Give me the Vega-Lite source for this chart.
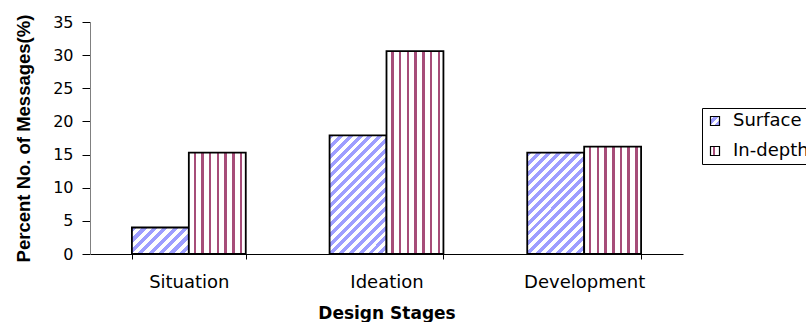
{
  "$schema": "https://vega.github.io/schema/vega-lite/v6.json",
  "width": 593,
  "height": 232,
  "autosize": {"type": "none"},
  "padding": {"left": 90, "top": 22, "right": 123, "bottom": 68},
  "background": "white",
  "config": {"view": {"stroke": null}, "font": "DejaVu Sans"},
  "data": {
    "values": [
      {"stage": "Situation", "type": "Surface", "pct": 4.0},
      {"stage": "Situation", "type": "In-depth", "pct": 15.3},
      {"stage": "Ideation", "type": "Surface", "pct": 17.9},
      {"stage": "Ideation", "type": "In-depth", "pct": 30.6},
      {"stage": "Development", "type": "Surface", "pct": 15.3},
      {"stage": "Development", "type": "In-depth", "pct": 16.2}
    ]
  },
  "mark": {"type": "bar", "stroke": "black", "strokeWidth": 1.8},
  "encoding": {
    "x": {
      "field": "stage",
      "type": "nominal",
      "sort": ["Situation", "Ideation", "Development"],
      "scale": {"paddingInner": 0.424, "paddingOuter": 0.212},
      "axis": {
        "title": "Design Stages",
        "labelAngle": 0,
        "tickBand": "extent",
        "tickSize": 5,
        "tickColor": "black",
        "domainColor": "black",
        "labelFont": "DejaVu Sans",
        "labelFontSize": 18,
        "labelColor": "black",
        "labelPadding": 14,
        "titleFont": "DejaVu Sans",
        "titleFontSize": 17,
        "titleFontWeight": "bold",
        "titleColor": "black",
        "titlePadding": 14
      }
    },
    "xOffset": {
      "field": "type",
      "type": "nominal",
      "sort": ["Surface", "In-depth"],
      "scale": {"paddingInner": 0, "paddingOuter": 0}
    },
    "y": {
      "field": "pct",
      "type": "quantitative",
      "scale": {"domain": [0, 35]},
      "axis": {
        "title": "Percent No. of Messages(%)",
        "values": [0, 5, 10, 15, 20, 25, 30, 35],
        "grid": false,
        "tickSize": 8,
        "tickColor": "black",
        "domainColor": "#808080",
        "labelFont": "DejaVu Sans",
        "labelFontSize": 16,
        "labelColor": "black",
        "labelPadding": 9,
        "labelFlush": false,
        "labelOverlap": false,
        "titleFont": "Liberation Sans",
        "titleFontSize": 18.5,
        "titleFontWeight": "bold",
        "titleColor": "black",
        "titlePadding": 19
      }
    },
    "fill": {
      "field": "type",
      "type": "nominal",
      "condition": [
        {
          "test": "datum.type === 'In-depth'",
          "value": {
            "gradient": "linear", "x1": 0, "y1": 0, "x2": 1, "y2": 0,
            "stops": [
              {"offset": 0, "color": "#FFFFFF"}, {"offset": 0.083, "color": "#FFFFFF"},
              {"offset": 0.083, "color": "#A64D79"}, {"offset": 0.127, "color": "#A64D79"},
              {"offset": 0.127, "color": "#FFFFFF"}, {"offset": 0.2185, "color": "#FFFFFF"},
              {"offset": 0.2185, "color": "#A64D79"}, {"offset": 0.2625, "color": "#A64D79"},
              {"offset": 0.2625, "color": "#FFFFFF"}, {"offset": 0.354, "color": "#FFFFFF"},
              {"offset": 0.354, "color": "#A64D79"}, {"offset": 0.398, "color": "#A64D79"},
              {"offset": 0.398, "color": "#FFFFFF"}, {"offset": 0.4895, "color": "#FFFFFF"},
              {"offset": 0.4895, "color": "#A64D79"}, {"offset": 0.5335, "color": "#A64D79"},
              {"offset": 0.5335, "color": "#FFFFFF"}, {"offset": 0.625, "color": "#FFFFFF"},
              {"offset": 0.625, "color": "#A64D79"}, {"offset": 0.669, "color": "#A64D79"},
              {"offset": 0.669, "color": "#FFFFFF"}, {"offset": 0.7605, "color": "#FFFFFF"},
              {"offset": 0.7605, "color": "#A64D79"}, {"offset": 0.8045, "color": "#A64D79"},
              {"offset": 0.8045, "color": "#FFFFFF"}, {"offset": 0.896, "color": "#FFFFFF"},
              {"offset": 0.896, "color": "#A64D79"}, {"offset": 0.94, "color": "#A64D79"},
              {"offset": 0.94, "color": "#FFFFFF"}, {"offset": 1, "color": "#FFFFFF"}
            ]
          }
        },
        {
          "test": "datum.stage === 'Situation'",
          "value": {
            "gradient": "linear", "x1": 0, "y1": 0, "x2": 1.2045, "y2": 0.5605,
            "stops": [
              {"offset": 0, "color": "#9E9EFF"}, {"offset": 0.0625, "color": "#9E9EFF"},
              {"offset": 0.0625, "color": "#FFFFFF"}, {"offset": 0.125, "color": "#FFFFFF"},
              {"offset": 0.125, "color": "#9E9EFF"}, {"offset": 0.1875, "color": "#9E9EFF"},
              {"offset": 0.1875, "color": "#FFFFFF"}, {"offset": 0.25, "color": "#FFFFFF"},
              {"offset": 0.25, "color": "#9E9EFF"}, {"offset": 0.3125, "color": "#9E9EFF"},
              {"offset": 0.3125, "color": "#FFFFFF"}, {"offset": 0.375, "color": "#FFFFFF"},
              {"offset": 0.375, "color": "#9E9EFF"}, {"offset": 0.4375, "color": "#9E9EFF"},
              {"offset": 0.4375, "color": "#FFFFFF"}, {"offset": 0.5, "color": "#FFFFFF"},
              {"offset": 0.5, "color": "#9E9EFF"}, {"offset": 0.5625, "color": "#9E9EFF"},
              {"offset": 0.5625, "color": "#FFFFFF"}, {"offset": 0.625, "color": "#FFFFFF"},
              {"offset": 0.625, "color": "#9E9EFF"}, {"offset": 0.6875, "color": "#9E9EFF"},
              {"offset": 0.6875, "color": "#FFFFFF"}, {"offset": 0.75, "color": "#FFFFFF"},
              {"offset": 0.75, "color": "#9E9EFF"}, {"offset": 0.8125, "color": "#9E9EFF"},
              {"offset": 0.8125, "color": "#FFFFFF"}, {"offset": 0.875, "color": "#FFFFFF"},
              {"offset": 0.875, "color": "#9E9EFF"}, {"offset": 0.9375, "color": "#9E9EFF"},
              {"offset": 0.9375, "color": "#FFFFFF"}, {"offset": 1, "color": "#FFFFFF"}
            ]
          }
        },
        {
          "test": "datum.stage === 'Ideation'",
          "value": {
            "gradient": "linear", "x1": 0, "y1": 0, "x2": 0.5774, "y2": 1.2029,
            "stops": [
              {"offset": 0, "color": "#9E9EFF"}, {"offset": 0.0278, "color": "#9E9EFF"},
              {"offset": 0.0278, "color": "#FFFFFF"}, {"offset": 0.0556, "color": "#FFFFFF"},
              {"offset": 0.0556, "color": "#9E9EFF"}, {"offset": 0.0833, "color": "#9E9EFF"},
              {"offset": 0.0833, "color": "#FFFFFF"}, {"offset": 0.1111, "color": "#FFFFFF"},
              {"offset": 0.1111, "color": "#9E9EFF"}, {"offset": 0.1389, "color": "#9E9EFF"},
              {"offset": 0.1389, "color": "#FFFFFF"}, {"offset": 0.1667, "color": "#FFFFFF"},
              {"offset": 0.1667, "color": "#9E9EFF"}, {"offset": 0.1944, "color": "#9E9EFF"},
              {"offset": 0.1944, "color": "#FFFFFF"}, {"offset": 0.2222, "color": "#FFFFFF"},
              {"offset": 0.2222, "color": "#9E9EFF"}, {"offset": 0.25, "color": "#9E9EFF"},
              {"offset": 0.25, "color": "#FFFFFF"}, {"offset": 0.2778, "color": "#FFFFFF"},
              {"offset": 0.2778, "color": "#9E9EFF"}, {"offset": 0.3056, "color": "#9E9EFF"},
              {"offset": 0.3056, "color": "#FFFFFF"}, {"offset": 0.3333, "color": "#FFFFFF"},
              {"offset": 0.3333, "color": "#9E9EFF"}, {"offset": 0.3611, "color": "#9E9EFF"},
              {"offset": 0.3611, "color": "#FFFFFF"}, {"offset": 0.3889, "color": "#FFFFFF"},
              {"offset": 0.3889, "color": "#9E9EFF"}, {"offset": 0.4167, "color": "#9E9EFF"},
              {"offset": 0.4167, "color": "#FFFFFF"}, {"offset": 0.4444, "color": "#FFFFFF"},
              {"offset": 0.4444, "color": "#9E9EFF"}, {"offset": 0.4722, "color": "#9E9EFF"},
              {"offset": 0.4722, "color": "#FFFFFF"}, {"offset": 0.5, "color": "#FFFFFF"},
              {"offset": 0.5, "color": "#9E9EFF"}, {"offset": 0.5278, "color": "#9E9EFF"},
              {"offset": 0.5278, "color": "#FFFFFF"}, {"offset": 0.5556, "color": "#FFFFFF"},
              {"offset": 0.5556, "color": "#9E9EFF"}, {"offset": 0.5833, "color": "#9E9EFF"},
              {"offset": 0.5833, "color": "#FFFFFF"}, {"offset": 0.6111, "color": "#FFFFFF"},
              {"offset": 0.6111, "color": "#9E9EFF"}, {"offset": 0.6389, "color": "#9E9EFF"},
              {"offset": 0.6389, "color": "#FFFFFF"}, {"offset": 0.6667, "color": "#FFFFFF"},
              {"offset": 0.6667, "color": "#9E9EFF"}, {"offset": 0.6944, "color": "#9E9EFF"},
              {"offset": 0.6944, "color": "#FFFFFF"}, {"offset": 0.7222, "color": "#FFFFFF"},
              {"offset": 0.7222, "color": "#9E9EFF"}, {"offset": 0.75, "color": "#9E9EFF"},
              {"offset": 0.75, "color": "#FFFFFF"}, {"offset": 0.7778, "color": "#FFFFFF"},
              {"offset": 0.7778, "color": "#9E9EFF"}, {"offset": 0.8056, "color": "#9E9EFF"},
              {"offset": 0.8056, "color": "#FFFFFF"}, {"offset": 0.8333, "color": "#FFFFFF"},
              {"offset": 0.8333, "color": "#9E9EFF"}, {"offset": 0.8611, "color": "#9E9EFF"},
              {"offset": 0.8611, "color": "#FFFFFF"}, {"offset": 0.8889, "color": "#FFFFFF"},
              {"offset": 0.8889, "color": "#9E9EFF"}, {"offset": 0.9167, "color": "#9E9EFF"},
              {"offset": 0.9167, "color": "#FFFFFF"}, {"offset": 0.9444, "color": "#FFFFFF"},
              {"offset": 0.9444, "color": "#9E9EFF"}, {"offset": 0.9722, "color": "#9E9EFF"},
              {"offset": 0.9722, "color": "#FFFFFF"}, {"offset": 1, "color": "#FFFFFF"}
            ]
          }
        },
        {
          "test": "datum.stage === 'Development'",
          "value": {
            "gradient": "linear", "x1": 0, "y1": 0, "x2": 0.6668, "y2": 1.1872,
            "stops": [
              {"offset": 0, "color": "#9E9EFF"}, {"offset": 0.03125, "color": "#9E9EFF"},
              {"offset": 0.03125, "color": "#FFFFFF"}, {"offset": 0.0625, "color": "#FFFFFF"},
              {"offset": 0.0625, "color": "#9E9EFF"}, {"offset": 0.09375, "color": "#9E9EFF"},
              {"offset": 0.09375, "color": "#FFFFFF"}, {"offset": 0.125, "color": "#FFFFFF"},
              {"offset": 0.125, "color": "#9E9EFF"}, {"offset": 0.15625, "color": "#9E9EFF"},
              {"offset": 0.15625, "color": "#FFFFFF"}, {"offset": 0.1875, "color": "#FFFFFF"},
              {"offset": 0.1875, "color": "#9E9EFF"}, {"offset": 0.21875, "color": "#9E9EFF"},
              {"offset": 0.21875, "color": "#FFFFFF"}, {"offset": 0.25, "color": "#FFFFFF"},
              {"offset": 0.25, "color": "#9E9EFF"}, {"offset": 0.28125, "color": "#9E9EFF"},
              {"offset": 0.28125, "color": "#FFFFFF"}, {"offset": 0.3125, "color": "#FFFFFF"},
              {"offset": 0.3125, "color": "#9E9EFF"}, {"offset": 0.34375, "color": "#9E9EFF"},
              {"offset": 0.34375, "color": "#FFFFFF"}, {"offset": 0.375, "color": "#FFFFFF"},
              {"offset": 0.375, "color": "#9E9EFF"}, {"offset": 0.40625, "color": "#9E9EFF"},
              {"offset": 0.40625, "color": "#FFFFFF"}, {"offset": 0.4375, "color": "#FFFFFF"},
              {"offset": 0.4375, "color": "#9E9EFF"}, {"offset": 0.46875, "color": "#9E9EFF"},
              {"offset": 0.46875, "color": "#FFFFFF"}, {"offset": 0.5, "color": "#FFFFFF"},
              {"offset": 0.5, "color": "#9E9EFF"}, {"offset": 0.53125, "color": "#9E9EFF"},
              {"offset": 0.53125, "color": "#FFFFFF"}, {"offset": 0.5625, "color": "#FFFFFF"},
              {"offset": 0.5625, "color": "#9E9EFF"}, {"offset": 0.59375, "color": "#9E9EFF"},
              {"offset": 0.59375, "color": "#FFFFFF"}, {"offset": 0.625, "color": "#FFFFFF"},
              {"offset": 0.625, "color": "#9E9EFF"}, {"offset": 0.65625, "color": "#9E9EFF"},
              {"offset": 0.65625, "color": "#FFFFFF"}, {"offset": 0.6875, "color": "#FFFFFF"},
              {"offset": 0.6875, "color": "#9E9EFF"}, {"offset": 0.71875, "color": "#9E9EFF"},
              {"offset": 0.71875, "color": "#FFFFFF"}, {"offset": 0.75, "color": "#FFFFFF"},
              {"offset": 0.75, "color": "#9E9EFF"}, {"offset": 0.78125, "color": "#9E9EFF"},
              {"offset": 0.78125, "color": "#FFFFFF"}, {"offset": 0.8125, "color": "#FFFFFF"},
              {"offset": 0.8125, "color": "#9E9EFF"}, {"offset": 0.84375, "color": "#9E9EFF"},
              {"offset": 0.84375, "color": "#FFFFFF"}, {"offset": 0.875, "color": "#FFFFFF"},
              {"offset": 0.875, "color": "#9E9EFF"}, {"offset": 0.90625, "color": "#9E9EFF"},
              {"offset": 0.90625, "color": "#FFFFFF"}, {"offset": 0.9375, "color": "#FFFFFF"},
              {"offset": 0.9375, "color": "#9E9EFF"}, {"offset": 0.96875, "color": "#9E9EFF"},
              {"offset": 0.96875, "color": "#FFFFFF"}, {"offset": 1, "color": "#FFFFFF"}
            ]
          }
        }
      ],
      "scale": {
        "domain": ["Surface", "In-depth"],
        "range": [
          {"expr": "{gradient: 'linear', x1: 0, y1: 0, x2: 1, y2: 1, stops: [{offset: 0, color: '#FFFFFF'}, {offset: 0.2, color: '#FFFFFF'}, {offset: 0.2, color: '#9E9EFF'}, {offset: 0.45, color: '#9E9EFF'}, {offset: 0.45, color: '#FFFFFF'}, {offset: 0.7, color: '#FFFFFF'}, {offset: 0.7, color: '#9E9EFF'}, {offset: 0.95, color: '#9E9EFF'}, {offset: 0.95, color: '#FFFFFF'}, {offset: 1, color: '#FFFFFF'}]}"},
          {"expr": "{gradient: 'linear', x1: 0, y1: 0, x2: 1, y2: 0, stops: [{offset: 0, color: '#FFFFFF'}, {offset: 0.3, color: '#FFFFFF'}, {offset: 0.3, color: '#A64D79'}, {offset: 0.55, color: '#A64D79'}, {offset: 0.55, color: '#FFFFFF'}, {offset: 1, color: '#FFFFFF'}]}"}
        ]
      },
      "legend": {
        "title": null,
        "orient": "none",
        "legendX": 612,
        "legendY": 86,
        "strokeColor": "black",
        "fillColor": "white",
        "padding": 4,
        "symbolType": "square",
        "symbolSize": 81,
        "symbolStrokeColor": "black",
        "symbolStrokeWidth": 1.2,
        "labelFont": "DejaVu Sans",
        "labelFontSize": 18,
        "labelColor": "black",
        "labelOffset": 9,
        "rowPadding": 12
      }
    }
  }
}
